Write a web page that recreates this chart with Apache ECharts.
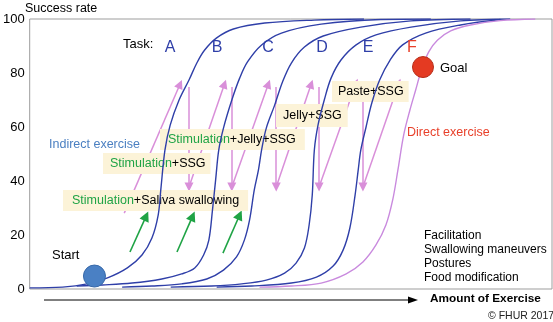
<!DOCTYPE html>
<html><head><meta charset="utf-8">
<script src="https://cdn.jsdelivr.net/npm/echarts@6/dist/echarts.min.js"></script>
<style>html,body{margin:0;padding:0;background:#fff}#c{width:553px;height:322px}</style>
</head><body><div id="c"></div>
<script>
// x: amount of exercise (0-100 arbitrary units), y: success rate (%)
const curveA = [[0,0.4],[6.3,0.7],[11.0,1.9],[14.9,4.1],[18.7,7.8],[21.5,12.6],[23.4,18.9],[24.6,27.4],[25.1,36.7],[25.9,51.5],[26.9,60.7],[28.6,70.0],[30.5,77.4],[32.0,83.7],[33.5,88.5],[35.8,93.0],[39.0,96.3],[45.0,98.5],[54.5,99.6],[64.0,100]];
const curveB = [[9.0,1.1],[13.9,1.5],[19.6,2.2],[25.3,3.7],[29.1,5.6],[31.6,7.8],[33.3,12.6],[34.3,18.1],[35.0,29.3],[35.6,40.4],[36.2,51.5],[37.1,59.6],[38.7,70.0],[40.2,78.1],[41.7,84.1],[44.4,90.4],[48.2,94.8],[55.8,98.1],[67.2,99.8],[76.8,100]];
const curveC = [[17.7,0.7],[23.4,1.1],[29.1,1.9],[33.9,3.7],[37.1,7.0],[39.6,11.9],[41.1,18.1],[42.1,25.6],[43.0,36.7],[43.8,44.1],[44.4,51.5],[45.3,59.6],[46.9,68.1],[48.4,76.7],[50.1,83.7],[52.6,89.6],[56.2,93.7],[63.4,97.0],[73.0,99.3],[84.4,100]];
const curveD = [[27.0,0.7],[34.9,1.1],[40.6,1.9],[45.3,3.3],[48.8,5.9],[51.0,9.6],[52.6,15.2],[53.5,23.7],[54.1,34.8],[54.5,51.5],[55.2,60.7],[56.4,70.0],[57.7,78.1],[59.6,84.8],[62.5,90.4],[66.3,94.1],[73.0,97.0],[82.5,99.3],[92.0,100]];
const curveE = [[35.8,0.7],[42.5,1.1],[50.1,2.2],[54.9,4.4],[58.1,8.5],[60.0,14.4],[61.3,22.6],[62.3,34.8],[62.9,44.1],[63.4,51.5],[64.4,60.0],[65.5,68.9],[67.0,77.4],[69.0,84.8],[71.4,90.4],[75.8,94.8],[82.5,97.8],[90.1,99.8]];
const curveF = [[44.0,0.7],[50.1,1.1],[55.8,2.2],[60.6,5.6],[63.8,10.0],[66.3,16.3],[68.2,23.7],[69.5,33.0],[70.5,44.1],[71.6,57.0],[72.8,66.3],[73.9,73.7],[75.0,81.1],[76.4,87.8],[78.1,92.2],[80.6,95.6],[84.4,97.8],[90.1,99.4],[96.8,100]];
const startPoint = [12.4,4.8];
const goalPoint = [75.3,82.2];
// zig-zag progression arrows (from, to)
const pinkArrows = [
  [[18.1,28.1],[28.8,75.9]],
  [[30.5,74.8],[30.5,37.8]],
  [[30.5,37.8],[37.3,75.9]],
  [[38.7,74.8],[38.7,37.8]],
  [[38.7,37.8],[45.7,75.9]],
  [[47.2,74.8],[47.2,37.8]],
  [[47.2,37.8],[53.9,75.9]],
  [[55.4,74.8],[55.4,37.8]],
  [[55.4,37.8],[62.5,76.3]],
  [[63.8,74.8],[63.8,37.8]],
  [[63.8,37.8],[70.7,76.3]]
];
const greenArrows = [
  [[19.2,13.7],[22.3,27.0]],
  [[28.2,13.7],[31.2,27.0]],
  [[37.0,13.3],[40.2,27.4]]
];
const yTicks = [0,20,40,60,80,100];
const taskLetters = ['A','B','C','D','E','F'];
const methods = ['Facilitation','Swallowing maneuvers','Postures','Food modification'];

const FONT = '"Liberation Sans", Arial, Helvetica, sans-serif';
const BLUE = '#2f3fa8', VIOLET = '#c98ade', PINK = '#d98fd9', GREEN = '#1fa345', BOX = '#fcf3d8';

const chart = echarts.init(document.getElementById('c'), null, {renderer:'canvas'});

function curveSeries(data, color) {
  return {type:'line', data:data, smooth:0.35, showSymbol:false, z:20,
    lineStyle:{color:color, width:1.4}, silent:true};
}
function txt(text, x, y, opts) {
  opts = opts || {};
  return {type:'text', z: opts.z || 30, style:Object.assign({text:text, x:x, y:y, fill:'#000',
    font:(opts.size||13)+'px '+FONT, textAlign:'left', textVerticalAlign:'middle', align:'left', verticalAlign:'middle'}, opts.style||{})};
}
function box(text, x, y, pad, size) {
  return {type:'text', z:10, style:{text:text, x:x, y:y, fill:'#000', font:size+'px '+FONT,
    textAlign:'left', textVerticalAlign:'top', align:'left', verticalAlign:'top',
    backgroundColor:BOX, padding:pad,
    rich:{g:{fill:GREEN, font:size+'px '+FONT}}}};
}
const letterX = [170,217,268,322,368,412];

const graphics = [
  txt('Success rate', 25, 9, {size:12.5}),
  txt('Task:', 123, 44),
  txt('Start', 52, 255),
  txt('Goal', 440, 68),
  txt('Indirect exercise', 49, 145, {size:12.5, style:{fill:'#4a7fc1'}}),
  txt('Direct exercise', 407, 133, {size:12.5, style:{fill:'#e8402a'}}),
  box('{g|Stimulation}+Saliva swallowing', 63, 190, [4,9,4,9], 12.5),
  box('{g|Stimulation}+SSG', 103, 153, [4,5,4,7], 12.5),
  box('{g|Stimulation}+Jelly+SSG', 160, 129, [4,9,4,8], 12.5),
  box('Jelly+SSG', 276, 104, [5,6,5,7], 12.5),
  box('Paste+SSG', 332, 81, [4,5,4,6], 12.5),
  txt('Amount of Exercise', 430, 299, {size:12, style:{font:'bold 11.8px '+FONT}}),
  txt('© FHUR 2017', 488, 316, {size:10.5, style:{fill:'#222'}}),
  {type:'line', z:30, shape:{x1:44, y1:300, x2:410, y2:300}, style:{stroke:'#000', lineWidth:1}},
  {type:'polygon', z:30, shape:{points:[[418,300],[408,296.5],[408,303.5]]}, style:{fill:'#000'}}
];
taskLetters.forEach((l,i)=>{
  graphics.push({type:'text', z:30, style:{text:l, x:letterX[i], y:48, fill: l==='F' ? '#e8402a' : BLUE,
    font:'16px '+FONT, textAlign:'center', textVerticalAlign:'middle', align:'center', verticalAlign:'middle'}});
});
methods.forEach((m,i)=>{ graphics.push(txt(m, 424, 236 + i*13.8, {size:12})); });

chart.setOption({
  animation:false,
  grid:{left:27, right:1, top:19, bottom:33, show:true, borderColor:'#9d9d9d', borderWidth:1, containLabel:false},
  xAxis:{type:'value', min:0, max:100, axisLine:{show:false}, axisTick:{show:false}, axisLabel:{show:false}, splitLine:{show:false}},
  yAxis:{type:'value', min:yTicks[0], max:yTicks[yTicks.length-1], interval:20,
    axisLine:{show:false}, axisTick:{show:false}, splitLine:{show:false},
    axisLabel:{color:'#000', fontSize:13, fontFamily:FONT, margin:5}},
  graphic:graphics,
  series:[
    {type:'lines', coordinateSystem:'cartesian2d', z:5, silent:true,
      symbol:['none','triangle'], symbolSize:9,
      lineStyle:{color:PINK, width:1.5, opacity:1},
      data:pinkArrows.map(c=>({coords:c}))},
    {type:'lines', coordinateSystem:'cartesian2d', z:5, silent:true,
      symbol:['none','triangle'], symbolSize:10,
      lineStyle:{color:GREEN, width:1.6, opacity:1},
      data:greenArrows.map(c=>({coords:c}))},
    curveSeries(curveA, BLUE),
    curveSeries(curveB, BLUE),
    curveSeries(curveC, BLUE),
    curveSeries(curveD, BLUE),
    curveSeries(curveE, BLUE),
    curveSeries(curveF, VIOLET),
    {type:'scatter', z:25, silent:true, symbolSize:22, data:[startPoint],
      itemStyle:{color:'#4a80c4', borderColor:'#3768a8', borderWidth:1, opacity:1}},
    {type:'scatter', z:25, silent:true, symbolSize:21, data:[goalPoint],
      itemStyle:{color:'#e43a22', borderColor:'#b52c18', borderWidth:1, opacity:1}}
  ]
});
</script></body></html>
